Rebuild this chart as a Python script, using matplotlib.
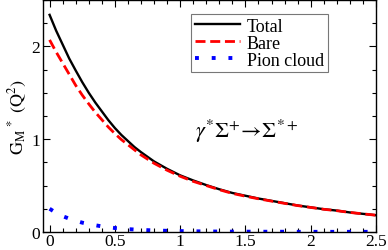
import matplotlib.pyplot as plt
from matplotlib.ticker import MultipleLocator

q2 = [0.0, 0.05, 0.1, 0.15, 0.2, 0.25, 0.3, 0.35, 0.4, 0.45, 0.5, 0.55,
      0.6, 0.65, 0.7, 0.75, 0.8, 0.9, 1.0, 1.1, 1.2, 1.3, 1.4, 1.5, 1.6,
      1.7, 1.8, 1.9, 2.0, 2.1, 2.2, 2.3, 2.4, 2.5]
total = [2.34, 2.17, 2.02, 1.87, 1.74, 1.615, 1.50, 1.395, 1.30, 1.205,
         1.12, 1.045, 0.98, 0.915, 0.86, 0.81, 0.76, 0.68, 0.61, 0.555,
         0.505, 0.46, 0.42, 0.39, 0.36, 0.335, 0.31, 0.285, 0.265, 0.245,
         0.23, 0.21, 0.195, 0.18]
bare = [2.07, 1.94, 1.82, 1.70, 1.58, 1.475, 1.38, 1.29, 1.21, 1.13,
        1.06, 0.995, 0.94, 0.885, 0.83, 0.785, 0.74, 0.665, 0.60, 0.545,
        0.50, 0.455, 0.415, 0.385, 0.357, 0.332, 0.308, 0.284, 0.264,
        0.244, 0.229, 0.21, 0.195, 0.18]
pion = [0.25, 0.205, 0.17, 0.143, 0.12, 0.10, 0.085, 0.072, 0.06, 0.05,
        0.042, 0.036, 0.03, 0.026, 0.022, 0.019, 0.016, 0.012, 0.009,
        0.007, 0.005, 0.004, 0.003, 0.003, 0.002, 0.002, 0.002, 0.001,
        0.001, 0.001, 0.001, 0.001, 0.001, 0.001]

plt.rcParams['font.family'] = ['Liberation Serif', 'DejaVu Serif']
plt.rcParams['mathtext.fontset'] = 'stix'

fig = plt.figure(figsize=(3.88, 2.51), dpi=100)
ax = fig.add_axes([0.111, 0.072, 0.858, 0.924])

ax.plot(q2, total, color='black', lw=1.7, label='Total')
ax.plot(q2, bare, color='red', lw=2.0, linestyle=(0, (3.6, 1.7)), label='Bare')
ax.plot(q2, pion, color='blue', lw=2.8, linestyle=(0, (1, 3.3)),
        dash_capstyle='butt', label='Pion cloud')

ax.set_xlim(-0.05, 2.5)
ax.set_ylim(0, 2.5)
ax.xaxis.set_major_locator(MultipleLocator(0.5))
ax.xaxis.set_minor_locator(MultipleLocator(0.1))
ax.yaxis.set_major_locator(MultipleLocator(1))
ax.yaxis.set_minor_locator(MultipleLocator(0.25))
ax.set_xticks([0, 0.5, 1, 1.5, 2, 2.5])
ax.set_xticklabels(['0', '0.5', '1', '1.5', '2', '2.5'])
ax.set_yticks([0, 1, 2])
ax.tick_params(which='both', direction='in', top=True, right=True, labelsize=12.5)
ax.tick_params(axis='x', pad=1)
ax.tick_params(axis='y', pad=2)
ax.tick_params(which='major', length=5, width=0.8)
ax.tick_params(which='minor', length=3, width=0.8)
for s in ax.spines.values():
    s.set_linewidth(1.0)

ax.set_ylabel(r'$\mathrm{G_M}^{\,*}\ (\mathrm{Q}^2)$', fontsize=13, labelpad=2)

ax.text(0.455, 0.41, r'$\gamma^{*}\Sigma^{+}\!\rightarrow\!\Sigma^{*+}$',
        transform=ax.transAxes, fontsize=16)

leg = ax.legend(loc='upper right', bbox_to_anchor=(0.855, 0.94), fontsize=13,
                frameon=True, fancybox=False, edgecolor='#555555',
                handlelength=2.5, handletextpad=0.4, labelspacing=0.0,
                borderpad=0.2, borderaxespad=0)
leg.get_frame().set_linewidth(0.8)

fig.savefig('out.png', dpi=100)
